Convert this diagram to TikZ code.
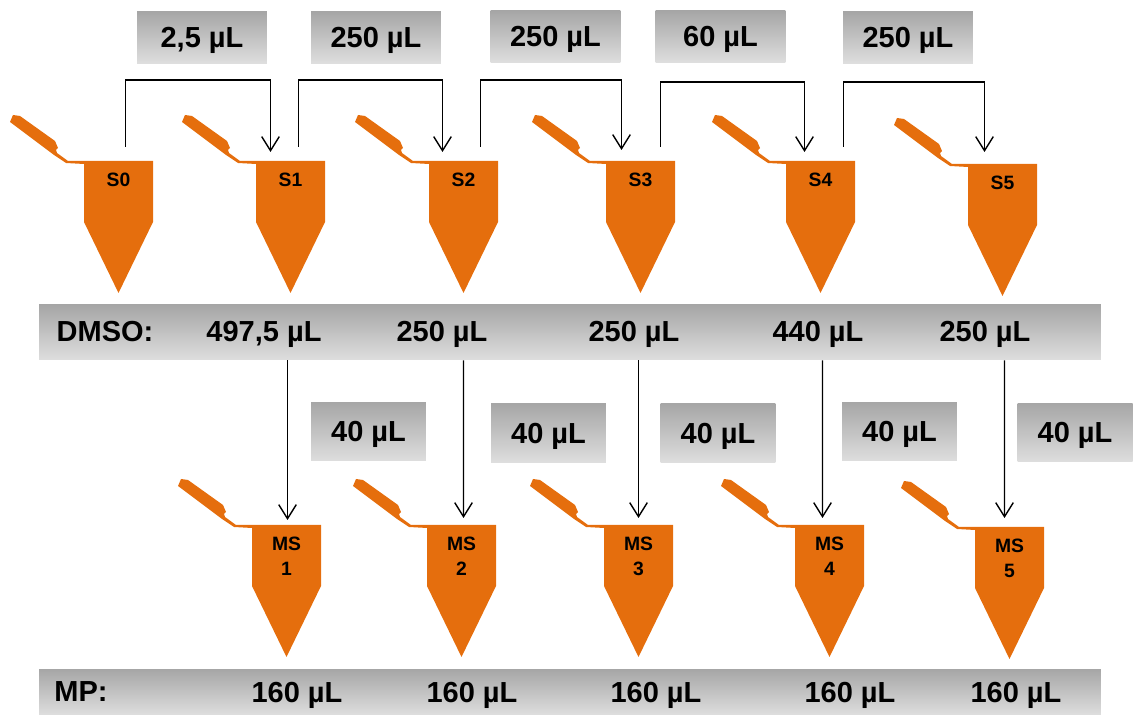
\documentclass[tikz,border=0pt]{standalone}
\usepackage{fontspec}
\setmainfont{Liberation Sans}
\usetikzlibrary{arrows.meta}
\definecolor{tubeorange}{RGB}{229,110,13}
\definecolor{boxtop}{RGB}{166,166,166}
\definecolor{boxbottom}{RGB}{222,222,222}
\tikzstyle{transferbox} = [rectangle, 
minimum width=2.6cm, 
minimum height=1.03cm, 
inner sep=0pt, 
text centered, 
text depth=0pt, 
top color=boxtop, 
bottom color=boxbottom, 
font=\bfseries\fontsize{16.5}{18}\selectfont]
\tikzstyle{samplebox} = [transferbox, 
minimum width=2.3cm, 
minimum height=1.18cm]
\tikzstyle{bandbox} = [transferbox, 
minimum width=21.24cm, 
minimum height=1.1cm]
\tikzstyle{bandtext} = [inner sep=0pt, 
text depth=0pt, 
font=\bfseries\fontsize{16.5}{18}\selectfont]
\tikzstyle{tubelabel} = [anchor=north, 
minimum width=1.38cm, 
inner xsep=0pt, 
inner ysep=0.24cm, 
align=center, 
font=\bfseries\fontsize{11}{14.2}\selectfont]
\tikzstyle{pipette} = [-{Straight Barb[length=8pt,width=10pt]}, line width=0.8pt, black]
\newcommand{\tube}[4]{
	\fill [tubeorange, shift={(#2,#3)}] (0,0) -- (69,0) -- (69,61) -- (34.5,132) -- (0,61) -- (0,3) -- (-18,2) -- (-30,-6) -- (-74,-39) -- (-71,-46) -- (-64,-45) -- (-29,-20) -- (-26,-13) -- (-28,-11) -- (-27,-8) -- (-16,0) -- cycle;
	\node (#1) [tubelabel] at (#2+34.5,#3) {#4};
}

\begin{document}
\begin{tikzpicture}[x=0.02cm, y=-0.02cm]
		\useasboundingbox (0,0) rectangle (1133,715);
		
		% top row
		\tube{S0}{84}{161}{S0}
		\tube{S1}{256}{161}{S1}
		\tube{S2}{429}{161}{S2}
		\tube{S3}{606}{161}{S3}
		\tube{S4}{786}{161}{S4}
		\tube{S5}{968}{164}{S5}
		
		% bottom row
		\tube{M1}{252}{525}{MS\\1}
		\tube{M2}{427}{525}{MS\\2}
		\tube{M3}{604}{525}{MS\\3}
		\tube{M4}{795}{525}{MS\\4}
		\tube{M5}{975}{527}{MS\\5}
		
		\node (t0) [transferbox] at (202,37.5) {2,5 µL};
		\node (t1) [transferbox] at (376,37.5) {250 µL};
		\node (t2) [transferbox] at (555.5,36.5) {250 µL};
		\node (t3) [transferbox] at (720.5,36.5) {60 µL};
		\node (t4) [transferbox] at (908,37.5) {250 µL};
		
		\node (dmso) [bandbox] at (570,332.5) {};
		\node (dmsotxt) [bandtext] at (105,331) {DMSO:};
		\node (d1) [bandtext] at (264,331) {497,5 µL};
		\node (d2) [bandtext] at (442,331) {250 µL};
		\node (d3) [bandtext] at (634,331) {250 µL};
		\node (d4) [bandtext] at (818,331) {440 µL};
		\node (d5) [bandtext] at (985,331) {250 µL};
		
		\node (m1) [samplebox] at (368.5,431.5) {40 µL};
		\node (m2) [samplebox] at (548.5,433) {40 µL};
		\node (m3) [samplebox] at (718,433) {40 µL};
		\node (m4) [samplebox] at (899.5,431.5) {40 µL};
		\node (m5) [samplebox] at (1075,432.5) {40 µL};
		
		\node (mp) [bandbox, minimum height=0.92cm] at (570,692) {};
		\node (mptxt) [bandtext] at (81,692) {MP:};
		\node (p1) [bandtext] at (297,692) {160 µL};
		\node (p2) [bandtext] at (472,692) {160 µL};
		\node (p3) [bandtext] at (656,692) {160 µL};
		\node (p4) [bandtext] at (850,692) {160 µL};
		\node (p5) [bandtext] at (1016,692) {160 µL};
		
		\draw [pipette] ([shift={(7,-14)}]S0.north) -- ++(0,-67) -| ([shift={(-20,-9)}]S1.north);
		\draw [pipette] ([shift={(8,-14)}]S1.north) -- ++(0,-67) -| ([shift={(-21,-9)}]S2.north);
		\draw [pipette] ([shift={(17,-14)}]S2.north) -- ++(0,-67) -| ([shift={(-19,-11)}]S3.north);
		\draw [pipette] ([shift={(20,-14)}]S3.north) -- ++(0,-65) -| ([shift={(-16,-9)}]S4.north);
		\draw [pipette] ([shift={(23,-14)}]S4.north) -- ++(0,-65) -| ([shift={(-18,-12)}]S5.north);
		
		\draw [pipette] ([xshift=0.02cm]M1.north |- dmso.south) -- ([shift={(1,-5)}]M1.north);
		\draw [pipette] ([xshift=0.04cm]M2.north |- dmso.south) -- ([shift={(2,-7)}]M2.north);
		\draw [pipette] (M3.north |- dmso.south) -- ([shift={(0,-7)}]M3.north);
		\draw [pipette] ([xshift=-0.14cm]M4.north |- dmso.south) -- ([shift={(-7,-7)}]M4.north);
		\draw [pipette] ([xshift=-0.1cm]M5.north |- dmso.south) -- ([shift={(-5,-9)}]M5.north);
	\end{tikzpicture}
\end{document}
